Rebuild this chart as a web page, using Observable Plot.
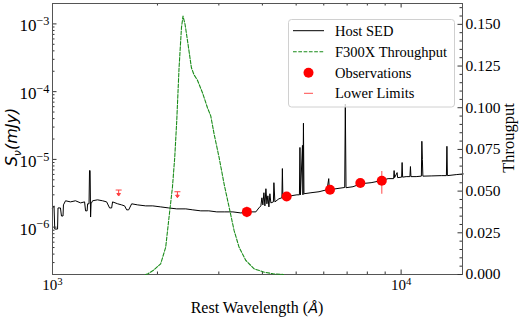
<!DOCTYPE html>
<html><head><meta charset="utf-8">
<script src="https://cdn.jsdelivr.net/npm/d3@7"></script>
<script src="https://cdn.jsdelivr.net/npm/@observablehq/plot@0.6"></script>
<style>
html,body{margin:0;padding:0;background:#fff;}
#chart{position:relative;width:520px;height:318px;overflow:hidden;}
#chart svg{position:absolute;left:0;top:0;}
</style></head><body><div id="chart"></div>
<script>
// Host SED (rest wavelength in Å, flux density in mJy)
const sedWave = [1000,1010,1015,1034,1037,1054,1061,1072,1075,1090,1126,1164,1204,1236,1244,1257,1261,1273,1277,1282,1286,1290,1303,1346,1392,1430,1458,1478,1487,1538,1579,1610,1632,1654,1687,1755,1851,1939,2044,2155,2272,2412,2526,2663,2808,2960,3121,3291,3470,3658,3831,3908,3960,3987,4013,4040,4067,4094,4121,4148,4176,4203,4231,4302,4316,4345,4461,4550,4565,4580,4672,4829,5025,5109,5126,5143,5212,5229,5246,5264,5513,5814,6131,6200,6223,6506,6890,6918,6950,7277,7675,8201,8762,9177,9517,9548,9579,9739,9772,10034,10067,10101,10337,10600,10636,10671,11044,11431,11468,11508,11546,12197,13032,13487,13532,13576,14390,15076];
const sedFlux = [1.92e-6,2.06e-6,9.37e-7,9.37e-7,1.92e-6,1.92e-6,1.46e-6,1.46e-6,2.13e-6,2.45e-6,2.36e-6,2.45e-6,2.28e-6,2.36e-6,1.74e-6,1.74e-6,2.21e-6,2.21e-6,6.84e-6,6.84e-6,1.41e-6,2.21e-6,2.45e-6,2.53e-6,2.45e-6,2.36e-6,1.92e-6,1.92e-6,2.36e-6,2.21e-6,2.13e-6,2.06e-6,1.80e-6,1.80e-6,2.21e-6,2.13e-6,2.06e-6,2.06e-6,1.99e-6,1.92e-6,1.86e-6,1.86e-6,1.80e-6,1.74e-6,1.74e-6,1.68e-6,1.68e-6,1.68e-6,1.62e-6,1.68e-6,1.68e-6,1.92e-6,2.06e-6,2.71e-6,2.13e-6,3.22e-6,2.06e-6,3.69e-6,2.21e-6,2.90e-6,1.99e-6,3.11e-6,2.28e-6,2.36e-6,4.53e-6,2.36e-6,2.62e-6,2.71e-6,7.32e-6,2.71e-6,2.80e-6,2.90e-6,3.00e-6,3.00e-6,1.50e-5,3.00e-6,1.61e-5,3.00e-6,3.42e-5,3.11e-6,3.22e-6,3.33e-6,3.57e-6,5.20e-6,3.57e-6,3.69e-6,3.85e-6,6.56e-5,3.82e-6,3.95e-6,4.38e-6,4.53e-6,4.85e-6,5.20e-6,5.20e-6,6.84e-6,5.38e-6,6.38e-6,5.38e-6,5.47e-6,8.99e-6,5.47e-6,5.57e-6,5.57e-6,7.84e-6,5.57e-6,5.57e-6,5.66e-6,1.85e-5,9.97e-6,5.66e-6,5.70e-6,5.76e-6,5.76e-6,1.56e-5,5.76e-6,5.96e-6,6.10e-6];

// F300X throughput
const tpWave = [1850,1880,1955,2043,2112,2159,2208,2242,2272,2307,2344,2368,2400,2448,2503,2547,2605,2693,2783,2844,2908,3005,3106,3211,3319,3430,3586,3788,4048,4300,4600];
const tpVal  = [0,0.0005,0.0028,0.0064,0.0163,0.0343,0.0522,0.0702,0.0922,0.124,0.148,0.155,0.150,0.138,0.124,0.1197,0.1165,0.109,0.100,0.0951,0.0842,0.0702,0.0543,0.0403,0.0263,0.0163,0.0084,0.0034,0.0014,0.0004,0];

// Observations
const obsWave = [3610,4695,6252,7638,8801];
const obsFlux = [1.68e-6,2.83e-6,3.56e-6,4.49e-6,4.85e-6];
const obsErr  = [0.3e-6,0.25e-6,0.25e-6,0.25e-6,1.8e-6];

// Lower limits
const llWave = [1548,2282];
const llFlux = [3.53e-6,3.33e-6];

// Axis ticks
const xMajor = [1000,10000];
const xMinor = [2000,3000,4000,5000,6000,7000,8000,9000];
const yMajor = [1e-6,1e-5,1e-4,1e-3];
const rMajor = [0,0.025,0.05,0.075,0.1,0.125,0.15];

// Legend entries
const legendLabels = ["Host SED", "F300X Throughput", "Observations", "Lower Limits"];

const yMinor = [];
for (let e = -7; e <= -3; e++) for (let m = 2; m <= 9; m++) { const v = m * Math.pow(10, e); if (v > 2.01e-7 && v < 1.99e-3) yMinor.push(v); }
const rMinor = [];
for (let i = 1; i <= 32; i++) if (i % 5 !== 0) rMinor.push(i * 0.005);

const sed = sedWave.map((w, i) => ({w, f: sedFlux[i]}));
const tp = tpWave.map((w, i) => ({w, t: tpVal[i]}));
const obs = obsWave.map((w, i) => ({w, f: obsFlux[i], lo: obsFlux[i] - obsErr[i], hi: obsFlux[i] + obsErr[i]}));
const ll = llWave.map((w, i) => ({w, f: llFlux[i]}));

const W = 520, H = 318, ML = 52, MR = 58, MT = 3, MB = 44;
const FW = W - ML - MR, FH = H - MT - MB;
const serif = "Liberation Serif";
const tickColor = "#333";
const green = "#1a8c1a";

const limitArrow = {
  draw(ctx, size) {
    const r = Math.sqrt(size / Math.PI);
    ctx.moveTo(-r, 0); ctx.lineTo(r, 0);
    ctx.moveTo(0, 0); ctx.lineTo(0, 1.3 * r);
    ctx.moveTo(-0.6 * r, 1.15 * r); ctx.lineTo(0.6 * r, 1.15 * r); ctx.lineTo(0, 2 * r); ctx.closePath();
  }
};

const p1 = Plot.plot({
  width: W, height: H, marginLeft: ML, marginRight: MR, marginTop: MT, marginBottom: MB,
  style: {fontFamily: serif, background: "white", color: "black"},
  x: {type: "log", domain: [1000, 15000]},
  y: {type: "log", domain: [2e-7, 2e-3]},
  marks: [
    Plot.line(sed, {x: "w", y: "f", stroke: "black", strokeWidth: 1}),
    Plot.ruleX(obs, {x: "w", y1: "lo", y2: "hi", stroke: "red", strokeOpacity: 0.6, strokeWidth: 1.2}),
    Plot.dot(obs, {x: "w", y: "f", r: 5, fill: "red", stroke: "none"}),
    Plot.dot(ll, {x: "w", y: "f", r: 3, symbol: limitArrow, stroke: "red", fill: "red", strokeWidth: 1, opacity: 0.75}),
    Plot.tickY(yMajor, {y: d => d, insetRight: FW - 4.5, stroke: tickColor}),
    Plot.tickY(yMinor, {y: d => d, insetRight: FW - 2.5, stroke: tickColor}),
    Plot.tickX(xMajor, {x: d => d, insetTop: FH - 4.5, stroke: tickColor}),
    Plot.tickX(xMinor, {x: d => d, insetTop: FH - 2.5, stroke: tickColor}),
    Plot.tickX(xMajor, {x: d => d, insetBottom: FH - 4.5, stroke: tickColor}),
    Plot.tickX(xMinor, {x: d => d, insetBottom: FH - 2.5, stroke: tickColor}),
    Plot.axisY({ticks: yMajor, tickSize: 0, tickPadding: 3, dy: 2, fontSize: 17, fontFamily: serif, label: null,
      tickFormat: d => "10^" + Math.round(Math.log10(d))}),
    Plot.axisX({ticks: xMajor, tickSize: 0, tickPadding: 5, fontSize: 15, fontFamily: serif, label: null,
      tickFormat: d => "10^" + Math.round(Math.log10(d))}),
    Plot.frame({stroke: "#555", strokeWidth: 1})
  ]
});

const p2 = Plot.plot({
  width: W, height: H, marginLeft: ML, marginRight: MR, marginTop: MT, marginBottom: MB,
  style: {fontFamily: serif, background: "transparent", color: "black"},
  x: {type: "log", domain: [1000, 15000], axis: null},
  y: {domain: [0, 0.1625]},
  marks: [
    Plot.line(tp, {x: "w", y: "t", stroke: green, strokeWidth: 1.1, strokeDasharray: "3.7,1.6"}),
    Plot.tickY(rMajor, {y: d => d, insetLeft: FW - 4.5, stroke: tickColor}),
    Plot.tickY(rMinor, {y: d => d, insetLeft: FW - 2.5, stroke: tickColor}),
    Plot.axisY({anchor: "right", ticks: rMajor, tickSize: 0, tickPadding: 3, fontSize: 15.5, fontFamily: serif, label: null,
      tickFormat: d3.format(".3f")})
  ]
});

const chart = document.getElementById("chart");
chart.appendChild(p1);
chart.appendChild(p2);

function supify(svg) {
  d3.select(svg).selectAll('g[aria-label$="tick label"] text').each(function () {
    const t = this.textContent;
    if (!t.includes("^")) return;
    const [base, exp] = t.split("^");
    const sel = d3.select(this);
    sel.text(null);
    sel.append("tspan").text(base);
    sel.append("tspan").attr("dy", "-0.5em").attr("font-size", "0.72em").text(exp.replace("-", "\u2212"));
  });
}
supify(p1);

const s1 = d3.select(p1);
const xl = s1.append("text").attr("x", ML + FW / 2).attr("y", 313).attr("text-anchor", "middle")
  .attr("font-family", serif).attr("font-size", 16).attr("fill", "black");
xl.append("tspan").text("Rest Wavelength (");
xl.append("tspan").attr("font-family", "DejaVu Sans").attr("font-style", "italic").attr("font-size", 14.5).text("Å");
xl.append("tspan").text(")");

const yl = s1.append("text").attr("transform", "translate(17,137) rotate(-90)").attr("text-anchor", "middle")
  .attr("font-family", "DejaVu Sans").attr("font-style", "italic").attr("font-size", 16).attr("fill", "black");
yl.append("tspan").text("S");
yl.append("tspan").attr("dy", 3.5).attr("font-size", 11).text("ν");
yl.append("tspan").attr("dy", -3.5).text("(mJy)");

const s2 = d3.select(p2);
s2.append("text").attr("transform", "translate(514,138) rotate(-90)").attr("text-anchor", "middle")
  .attr("font-family", serif).attr("font-size", 16.5).attr("fill", "black").text("Througput");

// Legend
const lg = s2.append("g").attr("text-anchor", "start");
lg.append("rect").attr("x", 288.5).attr("y", 19.5).attr("width", 166).attr("height", 87.5).attr("rx", 3)
  .attr("fill", "white").attr("fill-opacity", 0.8).attr("stroke", "#d0d0d0").attr("stroke-width", 1);
const rows = [30.7, 51.7, 72.7, 93.3];
lg.append("line").attr("x1", 293).attr("x2", 324).attr("y1", rows[0]).attr("y2", rows[0]).attr("stroke", "black").attr("stroke-width", 1);
lg.append("line").attr("x1", 293).attr("x2", 324).attr("y1", rows[1]).attr("y2", rows[1]).attr("stroke", green).attr("stroke-width", 1.1).attr("stroke-dasharray", "3.7,1.6");
lg.append("circle").attr("cx", 308.5).attr("cy", rows[2]).attr("r", 5).attr("fill", "red");
lg.append("line").attr("x1", 304).attr("x2", 313).attr("y1", rows[3]).attr("y2", rows[3]).attr("stroke", "red").attr("stroke-opacity", 0.7).attr("stroke-width", 1);
legendLabels.forEach((t, i) => {
  lg.append("text").attr("x", 335).attr("y", rows[i] + 5).attr("text-anchor", "start")
    .attr("font-family", serif).attr("font-size", 14.5).attr("fill", "black").text(t);
});
</script>
</body></html>
